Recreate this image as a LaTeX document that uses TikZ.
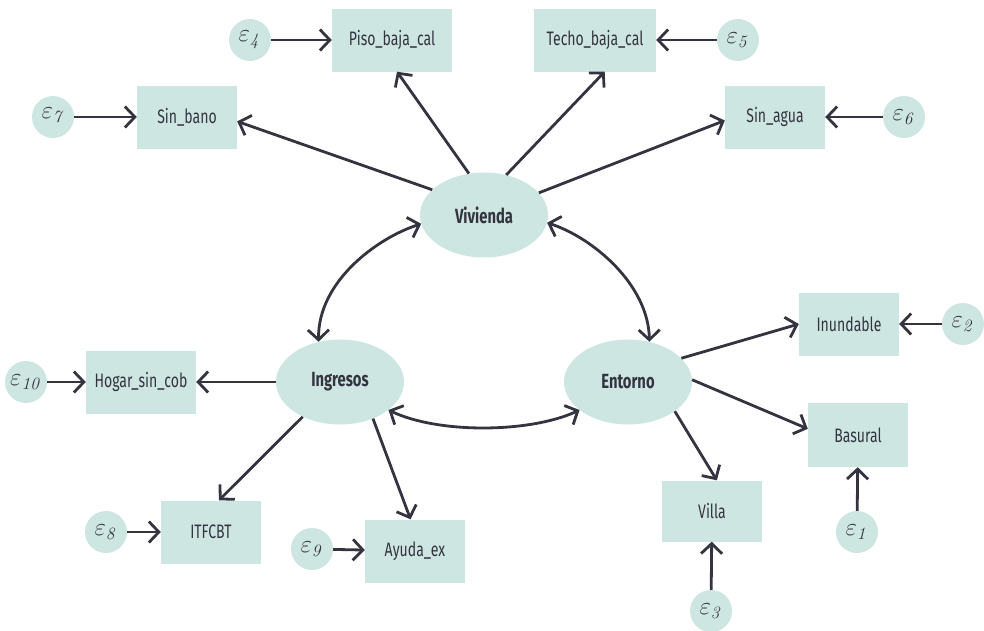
\documentclass[tikz,border=0pt]{standalone}
\usepackage[no-math]{fontspec}
\setmainfont{Fira Sans}[FakeStretch=0.72]
\usetikzlibrary{arrows.meta,shapes.geometric}
\definecolor{boxfill}{RGB}{205,230,225}
\definecolor{ink}{RGB}{52,52,64}
\tikzset{
  obs/.style={rectangle, fill=boxfill, minimum width=100pt, minimum height=63pt, inner sep=0pt, text=ink, font=\fontsize{19.5}{22}\selectfont},
  lat/.style={ellipse, fill=boxfill, minimum width=128pt, minimum height=85pt, inner sep=0pt, text=ink, font=\fontsize{20.5}{24}\selectfont\bfseries},
  err/.style={circle, fill=boxfill, minimum size=42pt, inner sep=0pt, text=ink, font=\fontsize{27}{30}\selectfont},
  conn/.style={draw=ink, line width=2.8pt, -{Straight Barb[length=10pt,width=21pt]}},
  cov/.style={draw=ink, line width=2.8pt, {Straight Barb[length=10pt,width=21pt]}-{Straight Barb[length=10pt,width=21pt]}},
}
\newcommand{\eps}[1]{$\varepsilon_{\mathit{#1}}$}
\begin{document}
\begin{tikzpicture}[x=1pt,y=-1pt]
\useasboundingbox (0,0) rectangle (984,630);
% latent
\node[lat] (viv) at (484,215) {Vivienda};
\node[lat] (ing) at (340,382) {Ingresos};
\node[lat] (ent) at (628,382) {Entorno};
% observed
\node[obs, minimum width=120pt] (piso) at (392,40) {Piso\_baja\_cal};
\node[obs, minimum width=122pt] (techo) at (595,40) {Techo\_baja\_cal};
\node[obs] (sinbano) at (187,117) {Sin\_bano};
\node[obs] (sinagua) at (775,117) {Sin\_agua};
\node[obs, minimum width=110pt] (hogar) at (141,382) {Hogar\_sin\_cob};
\node[obs] (inund) at (849,324) {Inundable};
\node[obs, minimum height=64pt] (basural) at (858,435) {Basural};
\node[obs, minimum height=61pt] (villa) at (712,511) {Villa};
\node[obs] (itfcbt) at (211,532) {ITFCBT};
\node[obs] (ayuda) at (415,551) {Ayuda\_ex};
% errors
\node[err] (e4) at (250,40) {\eps{4}};
\node[err] (e5) at (738,40) {\eps{5}};
\node[err] (e7) at (53,117) {\eps{7}};
\node[err] (e6) at (904,117) {\eps{6}};
\node[err] (e10) at (26,382) {\eps{10}};
\node[err] (e2) at (963,324) {\eps{2}};
\node[err] (e1) at (857,532) {\eps{1}};
\node[err] (e3) at (711,611) {\eps{3}};
\node[err] (e8) at (106,532) {\eps{8}};
\node[err] (e9) at (312,549) {\eps{9}};
% error arrows
\draw[conn] (e4) -- (piso);
\draw[conn] (e5) -- (techo);
\draw[conn] (e7) -- (sinbano);
\draw[conn] (e6) -- (sinagua);
\draw[conn] (e10) -- (hogar);
\draw[conn] (e2) -- (inund);
\draw[conn] (e1) -- (basural);
\draw[conn] (e3) -- (villa);
\draw[conn] (e8) -- (itfcbt);
\draw[conn] (e9) -- (ayuda);
% loadings
\draw[conn] (viv.110) -- (piso.-81);
\draw[conn] (viv.61) -- (techo.-73);
\draw[conn] (viv.154) -- (sinbano.-5);
\draw[conn] (viv.22) -- (sinagua.184);
\draw[conn] (ing.180) -- (hogar.east);
\draw[conn] (ing.-137) -- (itfcbt.76);
\draw[conn] (ing.-48) -- (ayuda.98);
\draw[conn] (ent.24) -- (inund.180);
\draw[conn] (ent.2) -- (basural.173);
\draw[conn] (ent.-32) -- (villa.81);
% covariances
\draw[cov] (ing.118) .. controls +(-1,-60) and +(-44,14) .. (viv.188);
\draw[cov] (viv.-7) .. controls +(46,15) and +(-1,-57) .. (ent.62);
\draw[cov] (ing.-30) .. controls +(50,24) and +(-49,23) .. (ent.210);
\end{tikzpicture}
\end{document}
